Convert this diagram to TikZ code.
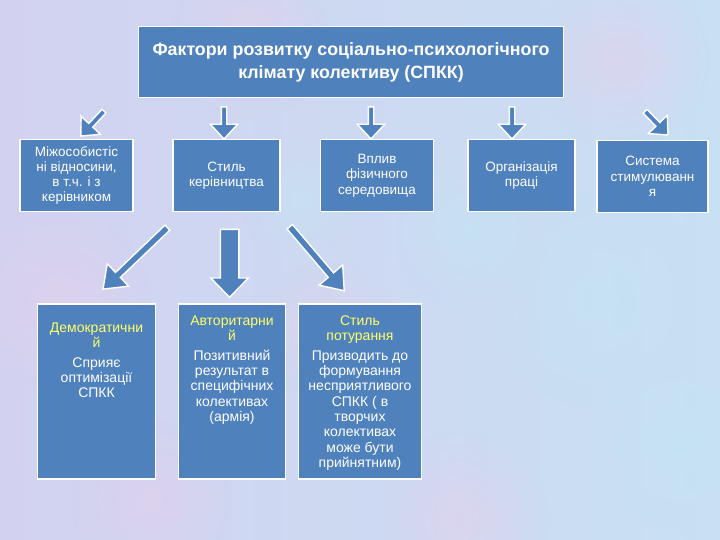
\documentclass[tikz,border=0pt]{standalone}
\usepackage{fontspec}
\setmainfont{Liberation Sans}
\usepackage{xcolor}
\usetikzlibrary{shapes,shapes.arrows,backgrounds,positioning,calc,fadings}

\definecolor{boxblue}{RGB}{79,129,189}
\definecolor{headyellow}{RGB}{255,255,102}
\definecolor{bgleft}{RGB}{210,210,240}
\definecolor{bgright}{RGB}{200,224,243}
\definecolor{blobpink}{RGB}{228,208,236}
\definecolor{blobcyan}{RGB}{196,228,245}
\newcommand{\hd}[1]{\textcolor{headyellow}{#1}}
\tikzfading[name=blobfade, inner color=transparent!0, outer color=transparent!100]

\begin{document}
\begin{tikzpicture}[x=1pt,y=-1pt,
    box/.style={draw=white, line width=1.6pt, fill=boxblue, text=white, align=center, inner sep=0pt},
    rowbox/.style={box, minimum height=72pt, font=\fontsize{13.5}{15.3}\selectfont},
    lowbox/.style={box, minimum height=175pt},
    lowtext/.style={text=white, align=center, anchor=north, inner sep=0pt, font=\fontsize{14}{15.3}\selectfont},
    blockarrow/.style={single arrow, draw=white, line width=1.4pt, fill=boxblue, inner xsep=0pt, inner ysep=2pt}]

            \useasboundingbox (0,0) rectangle (720,540);

            % background
            \fill[left color=bgleft, right color=bgright] (0,0) rectangle (720,540);
            \begin{scope}[opacity=0.6]
                \clip (0,0) rectangle (720,540);
                \foreach \bx/\by/\br in {60/300/90, 250/40/80, 620/60/90, 150/500/80, 460/520/90, 330/330/70}
                    \fill[blobpink, path fading=blobfade] (\bx,\by) circle (\br);
                \foreach \bx/\by/\br in {600/300/110, 470/230/80, 680/440/90, 300/200/60}
                    \fill[blobcyan, path fading=blobfade] (\bx,\by) circle (\br);
            \end{scope}

            % top
            \node[box, minimum width=425pt, minimum height=71pt, font=\bfseries\fontsize{17.8}{23}\selectfont] (title) at (351,62)
                {Фактори розвитку соціально-психологічного\\клімату колективу (СПКК)};

            % factors
            \node[rowbox, minimum width=113pt] (mizh) at (76.5,175.5) {Міжособистіс\\ні відносини,\\в т.ч. і з\\керівником};
            \node[rowbox, minimum width=107pt] (styl) at (226.5,175.5) {Стиль\\керівництва};
            \node[rowbox, minimum width=113pt] (vplyv) at (377,175.5) {Вплив\\фізичного\\середовища};
            \node[rowbox, minimum width=107pt] (org) at (521.5,175.5) {Організація\\праці};
            \node[rowbox, minimum width=111pt] (syst) at (652.5,176.5) {Система\\стимулюванн\\я};

            \node[blockarrow, minimum height=34pt, minimum width=25pt, single arrow head extend=10.5pt, single arrow tip angle=84, rotate=-133] (a1) at (93.4,122.5) {};
            \node[blockarrow, minimum height=32pt, minimum width=26pt, single arrow head extend=11pt, single arrow tip angle=86, rotate=-90] (a2) at (224,121.5) {};
            \node[blockarrow, minimum height=32pt, minimum width=26pt, single arrow head extend=11pt, single arrow tip angle=86, rotate=-90] (a3) at (371,121.5) {};
            \node[blockarrow, minimum height=32pt, minimum width=26pt, single arrow head extend=11pt, single arrow tip angle=86, rotate=-90] (a4) at (512,121.5) {};
            \node[blockarrow, minimum height=33pt, minimum width=25pt, single arrow head extend=10.5pt, single arrow tip angle=84, rotate=-46] (a5) at (655.5,122) {};

            % styles of leadership
            \node[blockarrow, minimum height=89pt, minimum width=30pt, single arrow head extend=12pt, single arrow tip angle=74, inner ysep=2.8pt, rotate=-136.3] (b1) at (136.9,256.8) {};
            \node[blockarrow, minimum height=68pt, minimum width=36pt, single arrow head extend=9.5pt, single arrow tip angle=88, inner ysep=8.5pt, rotate=-90] (b2) at (229.6,258.6) {};
            \node[blockarrow, minimum height=84pt, minimum width=30pt, single arrow head extend=12pt, single arrow tip angle=74, inner ysep=2.8pt, rotate=-49.6] (b3) at (315.5,257) {};

            \node[lowbox, minimum width=118pt] (demo) at (96.5,391.5) {};
            \node[lowbox, minimum width=107pt] (avto) at (232,391.5) {};
            \node[lowbox, minimum width=123pt] (potur) at (360,391.5) {};

            \node[lowtext] (demotxt) at ($(demo.north)+(0,19)$) {\hd{Демократични}\\\hd{й}\\[4.5pt]Сприяє\\оптимізації\\СПКК};
            \node[lowtext] (avtotxt) at ($(avto.north)+(0,12)$) {\hd{Авторитарни}\\\hd{й}\\[4.5pt]Позитивний\\результат в\\специфічних\\колективах\\(армія)};
            \node[lowtext] (poturtxt) at ($(potur.north)+(0,12)$) {\hd{Стиль}\\\hd{потурання}\\[4.5pt]Призводить до\\формування\\несприятливого\\СПКК ( в\\творчих\\колективах\\може бути\\прийнятним)};
        \end{tikzpicture}
\end{document}
